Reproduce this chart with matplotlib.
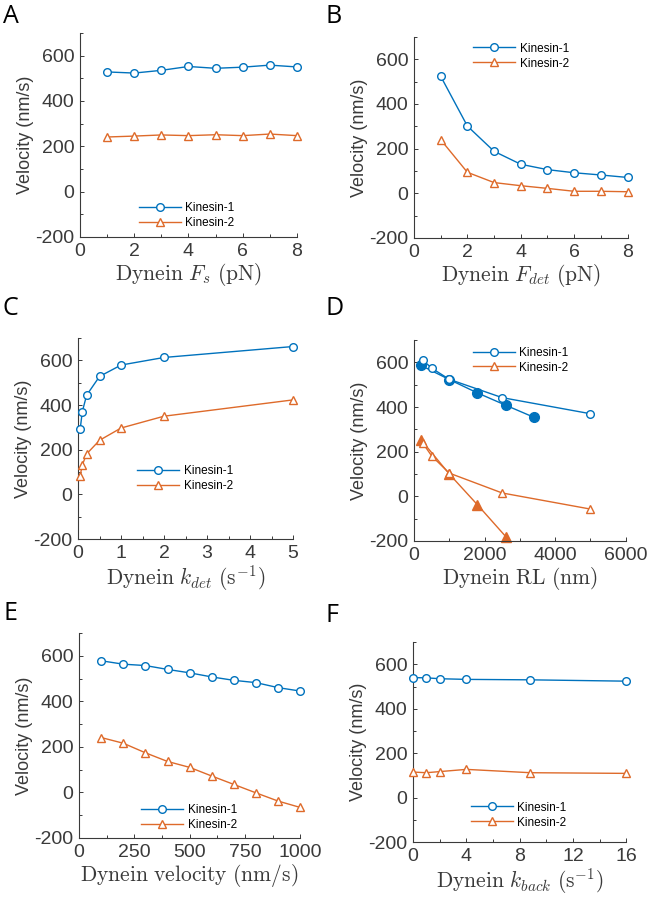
import matplotlib
matplotlib.use("Agg")
import matplotlib.pyplot as plt
from matplotlib.ticker import MultipleLocator

plt.rcParams['font.family'] = ['Liberation Sans', 'DejaVu Sans']
plt.rcParams['mathtext.fontset'] = 'cm'
plt.rcParams['axes.unicode_minus'] = False

BLUE = '#0072BD'
ORANGE = '#DE6A2A'
GREY = '#3a3a3a'

# A: dynein stall force
fs_x = [1, 2, 3, 4, 5, 6, 7, 8]
fs_k1 = [528, 523, 535, 552, 544, 549, 558, 550]
fs_k2 = [241, 245, 250, 247, 251, 247, 254, 247]

# B: dynein detachment force
fdet_x = [1, 2, 3, 4, 5, 6, 7, 8]
fdet_k1 = [524, 301, 188, 130, 106, 92, 82, 71]
fdet_k2 = [240, 94, 48, 34, 22, 9, 9, 7]

# C: dynein detachment rate
kdet_x = [0.05, 0.1, 0.2, 0.5, 1, 2, 5]
kdet_k1 = [292, 371, 444, 528, 579, 613, 662]
kdet_k2 = [84, 132, 181, 242, 297, 350, 423]

# D: dynein run length (open and filled series)
rl_x_open = [250, 500, 1000, 2500, 5000]
rl_k1_open = [610, 574, 524, 442, 370]
rl_k2_open = [238, 181, 104, 15, -57]
rl_x_k1_fill = [200, 1000, 1800, 2600, 3400]
rl_k1_fill = [586, 523, 463, 408, 354]
rl_x_k2_fill = [200, 1000, 1800, 2600]
rl_k2_fill = [253, 100, -38, -180]

# E: dynein velocity
dv_x = [100, 200, 300, 400, 500, 600, 700, 800, 900, 1000]
dv_k1 = [578, 563, 557, 540, 525, 507, 492, 482, 460, 445]
dv_k2 = [241, 216, 174, 136, 110, 72, 35, -2, -38, -66]

# F: dynein backward stepping rate
kb_x = [0, 1, 2, 4, 8.8, 16]
kb_k1 = [540, 539, 535, 532, 530, 524]
kb_k2 = [115, 112, 117, 127, 112, 109]

fig = plt.figure(figsize=(6.47, 9.0), dpi=100)

boxes = {
    'A': [0.1236, 0.7367, 0.3354, 0.2267],
    'B': [0.6399, 0.7356, 0.3300, 0.2233],
    'C': [0.1206, 0.4011, 0.3323, 0.2233],
    'D': [0.6399, 0.3989, 0.3270, 0.2233],
    'E': [0.1221, 0.0689, 0.3420, 0.2278],
    'F': [0.6383, 0.0644, 0.3300, 0.2222],
}


def style_axes(ax, xlim, xmajor, xminor, xlabel):
    ax.set_xlim(*xlim)
    ax.set_ylim(-200, 700)
    ax.xaxis.set_major_locator(MultipleLocator(xmajor))
    ax.xaxis.set_minor_locator(MultipleLocator(xminor))
    ax.set_yticks([-200, 0, 200, 400, 600])
    ax.yaxis.set_minor_locator(MultipleLocator(100))
    for s in ['top', 'right']:
        ax.spines[s].set_visible(False)
    for s in ['left', 'bottom']:
        ax.spines[s].set_color(GREY)
        ax.spines[s].set_linewidth(0.8)
    ax.tick_params(which='both', direction='in', colors=GREY,
                   labelcolor=GREY, labelsize=14, width=0.7)
    ax.tick_params(which='major', length=3, pad=4)
    ax.tick_params(which='minor', length=2)
    ax.set_ylabel('Velocity (nm/s)', fontsize=13, color=GREY, labelpad=1)
    ax.set_xlabel(xlabel, fontsize=15.5, color=GREY, labelpad=1)


def plot_pair(ax, x, k1, k2, x2=None):
    if x2 is None:
        x2 = x
    ax.plot(x, k1, color=BLUE, lw=1, marker='o', ms=5.5, mfc='white',
            mew=1, label='Kinesin-1', clip_on=False, zorder=3)
    ax.plot(x2, k2, color=ORANGE, lw=1, marker='^', ms=6, mfc='white',
            mew=1, label='Kinesin-2', clip_on=False, zorder=3)


def add_legend(ax, xa, ya):
    ax.legend(loc='center left', bbox_to_anchor=(xa, ya), frameon=False,
              fontsize=8.5, handlelength=3.6, handletextpad=0.35,
              labelspacing=0.25, borderpad=0, borderaxespad=0)


axA = fig.add_axes(boxes['A'])
plot_pair(axA, fs_x, fs_k1, fs_k2)
style_axes(axA, (0, 8), 2, 1, r'$\mathrm{Dynein}\ F_s\ \mathrm{(pN)}$')
add_legend(axA, 0.27, 0.105)

axB = fig.add_axes(boxes['B'])
plot_pair(axB, fdet_x, fdet_k1, fdet_k2)
style_axes(axB, (0, 8), 2, 1, r'$\mathrm{Dynein}\ F_{det}\ \mathrm{(pN)}$')
add_legend(axB, 0.276, 0.905)

axC = fig.add_axes(boxes['C'])
plot_pair(axC, kdet_x, kdet_k1, kdet_k2)
style_axes(axC, (0, 5), 1, 0.5, r'$\mathrm{Dynein}\ k_{det}\ \mathrm{(s^{-1})}$')
add_legend(axC, 0.274, 0.30)

axD = fig.add_axes(boxes['D'])
plot_pair(axD, rl_x_open, rl_k1_open, rl_k2_open)
axD.plot(rl_x_k1_fill, rl_k1_fill, color=BLUE, lw=1, marker='o', ms=7,
         clip_on=False, zorder=2)
axD.plot(rl_x_k2_fill, rl_k2_fill, color=ORANGE, lw=1, marker='^', ms=7.5,
         clip_on=False, zorder=2)
style_axes(axD, (0, 6000), 2000, 1000, r'$\mathrm{Dynein\ RL\ (nm)}$')
add_legend(axD, 0.278, 0.90)

axE = fig.add_axes(boxes['E'])
plot_pair(axE, dv_x, dv_k1, dv_k2)
style_axes(axE, (0, 1000), 250, 125, r'$\mathrm{Dynein\ velocity\ (nm/s)}$')
add_legend(axE, 0.28, 0.10)

axF = fig.add_axes(boxes['F'])
plot_pair(axF, kb_x, kb_k1, kb_k2)
style_axes(axF, (0, 16), 4, 2, r'$\mathrm{Dynein}\ k_{back}\ \mathrm{(s^{-1})}$')
add_legend(axF, 0.27, 0.135)

# panel letters
letters = [('A', 3, 4), ('B', 326, 4), ('C', 3, 296), ('D', 326, 296),
           ('E', 3, 601), ('F', 326, 603)]
for lab, px, py in letters:
    fig.text(px / 647, 1 - py / 900, lab, fontsize=18, va='top', ha='left',
             family=['Open Sans', 'DejaVu Sans'])

fig.savefig('out.png', dpi=100)
